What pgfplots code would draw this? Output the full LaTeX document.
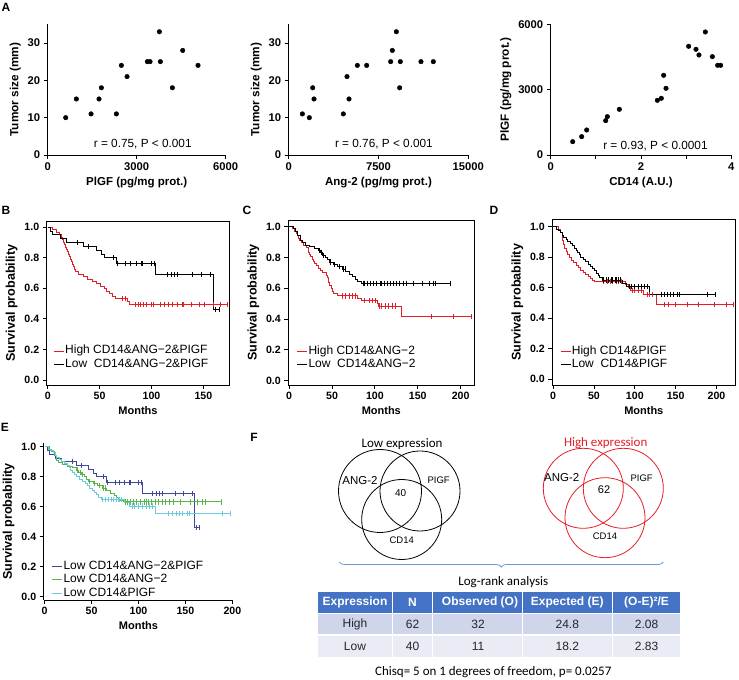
\documentclass[border=0pt]{standalone}
\usepackage{fontspec}
\setmainfont{Liberation Sans}
\newfontfamily\calibri{Carlito}
\usepackage{pgfplots}
\pgfplotsset{compat=1.18}
\usepackage{pgfplotstable}
\usetikzlibrary{decorations.pathreplacing}

\definecolor{kmred}{RGB}{228,30,38}
\definecolor{kmblue}{RGB}{64,72,158}
\definecolor{kmgreen}{RGB}{90,182,72}
\definecolor{kmcyan}{RGB}{104,204,218}
\definecolor{hdrblue}{RGB}{68,114,196}
\definecolor{rowA}{RGB}{207,213,234}
\definecolor{rowB}{RGB}{233,235,245}
\definecolor{bracec}{RGB}{110,150,210}
\newcommand{\lgf}{\fontsize{12bp}{14bp}\selectfont}

% ---------- Panel A data ----------
\pgfplotstableread{
x y
607 10
966 15
1461 11
1730 15
1809 18
2315 11
2483 24
2674 21
3360 25
3449 25
3764 33
3798 25
4202 18
4551 28
5067 24
}\Aone
\pgfplotstableread{
x y
1141 11
1725 10
2004 18
2115 15
4564 11
4870 21
5037 15
5733 24
6512 24
8516 25
8655 28
8989 33
9323 25
9267 18
11048 25
12078 25
}\Atwo
\pgfplotstableread{
x y
0.487 612
0.686 842
0.797 1148
1.218 1576
1.255 1760
1.520 2097
2.362 2510
2.450 2602
2.502 3658
2.554 3061
3.055 4990
3.218 4852
3.284 4592
3.425 5648
3.580 4515
3.698 4117
3.764 4117
}\Athree

% ---------- Panel B data ----------
\pgfplotstableread{
t s
0 1.000
5 0.984
8 0.968
11 0.952
13 0.935
14 0.919
15 0.903
16 0.887
17 0.871
18 0.855
19 0.839
20 0.823
21 0.806
22 0.790
23 0.774
24 0.758
25 0.742
26 0.726
27 0.710
30 0.694
34 0.677
38 0.661
43 0.645
47 0.629
51 0.613
55 0.597
57 0.581
59 0.565
62 0.548
65 0.532
77 0.513
79 0.492
173 0.492
}\BHs
\pgfplotstableread{
t s
72 0.532
75 0.532
84 0.492
87 0.492
89.5 0.492
92 0.492
95.5 0.492
100 0.492
102 0.492
109 0.492
112 0.492
116 0.492
120 0.492
125 0.492
130 0.492
131 0.492
138 0.492
146 0.492
151 0.492
160 0.492
166.5 0.492
173 0.492
}\BHc
\pgfplotstableread{
t s
0 1.000
3 0.975
5 0.950
12 0.925
18 0.900
34 0.875
47 0.850
52 0.825
55 0.800
66 0.762
104 0.688
160 0.459
165 0.459
}\BLs
\pgfplotstableread{
t s
29 0.900
39 0.875
63 0.800
67 0.762
75 0.762
80 0.762
85 0.762
90 0.762
91 0.762
100 0.762
103 0.762
115 0.688
119 0.688
122 0.688
125 0.688
139 0.688
148 0.688
157 0.688
162 0.459
165 0.459
}\BLc

% ---------- Panel C data ----------
\pgfplotstableread{
t s
0 1.000
4 0.985
6 0.970
8 0.955
10 0.940
11 0.925
12 0.910
14 0.895
17 0.880
20 0.865
22 0.850
23 0.835
24 0.820
25 0.805
27 0.790
28 0.775
30 0.760
32 0.745
34 0.730
37 0.715
39 0.700
43 0.685
45 0.670
46 0.640
47 0.620
49 0.600
50 0.580
52 0.565
56 0.550
80 0.535
84 0.518
103 0.500
104 0.485
131 0.416
212 0.416
}\CHs
\pgfplotstableread{
t s
62 0.550
66 0.550
70 0.550
74 0.550
77 0.550
88 0.518
94 0.518
97 0.518
100 0.518
105 0.485
108 0.485
112 0.485
116 0.485
120 0.485
124 0.485
166 0.416
191 0.416
212 0.416
}\CHc
\pgfplotstableread{
t s
0 1.000
5 0.985
7 0.970
10 0.940
13 0.910
15 0.895
19 0.880
24 0.870
30 0.860
34 0.845
36 0.830
39 0.815
42 0.800
45 0.785
47 0.770
52 0.755
56 0.740
62 0.725
66 0.710
70 0.690
74 0.675
77 0.660
80 0.645
84 0.632
188 0.632
}\CLs
\pgfplotstableread{
t s
35 0.845
38 0.830
40 0.815
48 0.770
53 0.755
58 0.740
63 0.725
65 0.725
86 0.632
88 0.632
91 0.632
95 0.632
98 0.632
102 0.632
106 0.632
108 0.632
111 0.632
114 0.632
118 0.632
121 0.632
125 0.632
129 0.632
133 0.632
137 0.632
145 0.632
155 0.632
163 0.632
168 0.632
171 0.632
188 0.632
}\CLc

% ---------- Panel D data ----------
\pgfplotstableread{
t s
0 1.000
7 0.985
9 0.960
11 0.935
12 0.910
13 0.885
14 0.860
16 0.840
18 0.820
20 0.800
22 0.780
25 0.765
28 0.745
31 0.730
34 0.715
37 0.700
40 0.685
43 0.672
46 0.660
48 0.650
51 0.640
88 0.618
92 0.598
95 0.580
111 0.555
126 0.490
220 0.490
}\DHs
\pgfplotstableread{
t s
62 0.640
66 0.640
70 0.640
73 0.640
77 0.640
80 0.640
84 0.640
97 0.580
100 0.580
104 0.580
108 0.580
115 0.555
118 0.555
122 0.555
136 0.490
141 0.490
150 0.490
164 0.490
178 0.490
197 0.490
212 0.490
220 0.490
}\DHc
\pgfplotstableread{
t s
0 1.000
4 0.985
6 0.975
9 0.960
11 0.945
13 0.930
16 0.915
18 0.905
21 0.890
24 0.875
26 0.860
28 0.845
30 0.830
32 0.815
34 0.800
37 0.785
40 0.770
43 0.755
46 0.740
48 0.725
51 0.710
53 0.695
55 0.680
57 0.665
60 0.650
85 0.630
90 0.605
118 0.556
198 0.556
}\DLs
\pgfplotstableread{
t s
62 0.650
65 0.650
68 0.650
71 0.650
73 0.650
76 0.650
78 0.650
80 0.650
82 0.650
93 0.605
96 0.605
100 0.605
104 0.605
108 0.605
112 0.605
115 0.605
132 0.556
136 0.556
140 0.556
144 0.556
147 0.556
152 0.556
154 0.556
189 0.556
198 0.556
}\DLc

\pgfplotsset{
  common/.style={scale only axis, anchor=south west, tick align=outside,
    major tick length=4bp, scaled ticks=false,
    every tick/.style={black, line width=0.8bp},
    axis line style={line width=0.8bp},
    xtick pos=left, ytick pos=left},
  scat/.style={common, axis lines*=left,
    tick label style={font=\fontsize{11.2bp}{13bp}\selectfont\bfseries},
    xlabel style={font=\fontsize{11.5bp}{13bp}\selectfont\bfseries},
    ylabel style={font=\fontsize{11.8bp}{13bp}\selectfont\bfseries}},
  km/.style={common,
    tick label style={font=\fontsize{10.6bp}{12bp}\selectfont\bfseries},
    xlabel style={font=\fontsize{11bp}{13bp}\selectfont\bfseries},
    ylabel style={font=\fontsize{12.6bp}{14bp}\selectfont\bfseries},
    ytick={0,0.2,0.4,0.6,0.8,1}, yticklabels={0.0,0.2,0.4,0.6,0.8,1.0},
    xlabel={Months}, ylabel={Survival probability},
    legend cell align=left,
    legend style={draw=none, fill=none, anchor=north west, inner sep=0pt,
      row sep=0pt,
      nodes={inner sep=0.8bp, text height=9bp, text depth=3bp}},
    legend image code/.code={\draw[##1, line width=0.9bp] (0bp,0bp) -- (10bp,0bp);}},
  stp/.style={const plot, line width=0.9bp},
  cens/.style={only marks, mark=|, mark size=2.6bp, line width=0.7bp, forget plot}
}

\begin{document}
\begin{tikzpicture}
\path[use as bounding box] (0bp,0bp) rectangle (739bp,680bp);

% ---------------- Panel A ----------------
\begin{axis}[scat, at={(47.7bp,525bp)}, width=178bp, height=130.7bp,
  xmin=0, xmax=6000, ymin=0, ymax=35,
  xtick={0,3000,6000}, xticklabels={0,3000,6000},
  ytick={0,10,20,30}, yticklabels={0,10,20,30},
  xlabel={PlGF (pg/mg prot.)}, ylabel={Tumor size (mm)}]
\addplot[only marks, mark=*, mark size=2.3bp, black] table {\Aone};
\node[font=\fontsize{11.8bp}{13bp}\selectfont] at (rel axis cs:0.534,0.085) {r = 0.75, P < 0.001};
\end{axis}

\begin{axis}[scat, at={(288.7bp,525bp)}, width=179.6bp, height=130.7bp,
  xmin=0, xmax=15000, ymin=0, ymax=35,
  xtick={0,7500,15000}, xticklabels={0,7500,15000},
  ytick={0,10,20,30}, yticklabels={0,10,20,30},
  xlabel={Ang-2 (pg/mg prot.)}, ylabel={Tumor size (mm)}]
\addplot[only marks, mark=*, mark size=2.3bp, black] table {\Atwo};
\node[font=\fontsize{11.8bp}{13bp}\selectfont] at (rel axis cs:0.53,0.085) {r = 0.76, P < 0.001};
\end{axis}

\begin{axis}[scat, at={(550.7bp,525bp)}, width=180.6bp, height=130.7bp,
  xmin=0, xmax=4, ymin=0, ymax=6000,
  xtick={0,1,2,3,4}, xticklabels={0,,2,,4},
  ytick={0,3000,6000}, yticklabels={0,3000,6000},
  xlabel={CD14 (A.U.)}, ylabel={PlGF (pg/mg prot.)}]
\addplot[only marks, mark=*, mark size=2.3bp, black] table {\Athree};
\node[font=\fontsize{11.8bp}{13bp}\selectfont] at (rel axis cs:0.58,0.07) {r = 0.93, P < 0.0001};
\end{axis}

% ---------------- Panel B ----------------
\begin{axis}[km, at={(46.7bp,295bp)}, width=182.6bp, height=164bp,
  xmin=-1, xmax=175, ymin=-0.033, ymax=1.041,
  xtick={0,50,100,150}, xticklabels={0,50,100,150},
  legend style={at={(0.036,0.25)}}]
\addplot[kmred, stp] table {\BHs};
\addlegendentry{\lgf High CD14\&ANG−2\&PIGF}
\addplot[black, stp] table {\BLs};
\addlegendentry{\lgf Low\ \ CD14\&ANG−2\&PIGF}
\addplot[kmred, cens] table {\BHc};
\addplot[black, cens] table {\BLc};
\end{axis}

% ---------------- Panel C ----------------
\begin{axis}[km, at={(288.3bp,295bp)}, width=186bp, height=165bp,
  xmin=-1, xmax=216, ymin=-0.028, ymax=1.043,
  xtick={0,50,100,150,200}, xticklabels={0,50,100,150,200},
  legend style={at={(0.045,0.248)}}]
\addplot[kmred, stp] table {\CHs};
\addlegendentry{\lgf High CD14\&ANG−2}
\addplot[black, stp] table {\CLs};
\addlegendentry{\lgf Low\ \ CD14\&ANG−2}
\addplot[kmred, cens] table {\CHc};
\addplot[black, cens] table {\CLc};
\end{axis}

% ---------------- Panel D ----------------
\begin{axis}[km, at={(552.3bp,295bp)}, width=183bp, height=165.3bp,
  xmin=-1, xmax=223, ymin=-0.039, ymax=1.046,
  xtick={0,50,100,150,200}, xticklabels={0,50,100,150,200},
  legend style={at={(0.042,0.248)}}]
\addplot[kmred, stp] table {\DHs};
\addlegendentry{\lgf High CD14\&PIGF}
\addplot[black, stp] table {\DLs};
\addlegendentry{\lgf Low\ \ CD14\&PIGF}
\addplot[kmred, cens] table {\DHc};
\addplot[black, cens] table {\DLc};
\end{axis}

% ---------------- Panel E ----------------
\begin{axis}[km, axis lines*=left, at={(43.7bp,80bp)}, width=189.6bp, height=157bp,
  xmin=-1, xmax=201, ymin=-0.022, ymax=1.025,
  xtick={0,50,100,150,200}, xticklabels={0,50,100,150,200},
  legend style={at={(0.042,0.26)}}]
\addplot[kmblue, stp] table {\BLs};
\addlegendentry{\lgf Low CD14\&ANG−2\&PIGF}
\addplot[kmgreen, stp] table {\CLs};
\addlegendentry{\lgf Low CD14\&ANG−2}
\addplot[kmcyan, stp] table {\DLs};
\addlegendentry{\lgf Low CD14\&PIGF}
\addplot[kmcyan, cens] table {\DLc};
\addplot[kmgreen, cens] table {\CLc};
\addplot[kmblue, cens] table {\BLc};
\end{axis}

% ---------------- Panel letters ----------------
\begin{scope}[every node/.style={font=\fontsize{12bp}{14bp}\selectfont\bfseries}]
\node at (6bp,673bp) {A};
\node at (6bp,470bp) {B};
\node at (247bp,470bp) {C};
\node at (494bp,470bp) {D};
\node at (5bp,252.5bp) {E};
\node at (254bp,243bp) {F};
\end{scope}

% ---------------- Panel F: Venn diagrams ----------------
\node[font=\calibri\fontsize{13bp}{15bp}\selectfont] at (402bp,236bp) {Low expression};
\draw[black, line width=0.8bp] (380bp,189bp) circle (41.5bp);
\draw[black, line width=0.8bp] (420bp,189bp) circle (40bp);
\draw[black, line width=0.8bp] (401.7bp,160.5bp) circle (40bp);
\node[font=\fontsize{11.5bp}{13bp}\selectfont] at (360bp,199.3bp) {ANG-2};
\node[font=\fontsize{9.5bp}{11bp}\selectfont] at (438.7bp,199.3bp) {PIGF};
\node[font=\fontsize{10bp}{12bp}\selectfont] at (400.7bp,187.3bp) {40};
\node[font=\fontsize{9.5bp}{11bp}\selectfont] at (401.7bp,139.3bp) {CD14};

\node[font=\calibri\fontsize{13bp}{15bp}\selectfont, text=kmred] at (605.7bp,236.7bp) {High expression};
\draw[kmred, line width=0.8bp] (583.3bp,191.7bp) circle (40bp);
\draw[kmred, line width=0.8bp] (623.3bp,191.7bp) circle (40bp);
\draw[kmred, line width=0.8bp] (605bp,162.3bp) circle (40bp);
\node[font=\fontsize{11.5bp}{13bp}\selectfont] at (561.7bp,202.7bp) {ANG-2};
\node[font=\fontsize{9.5bp}{11bp}\selectfont] at (641.7bp,201.7bp) {PIGF};
\node[font=\fontsize{11bp}{13bp}\selectfont] at (604bp,190bp) {62};
\node[font=\fontsize{9.5bp}{11bp}\selectfont] at (605bp,143.3bp) {CD14};

\draw[bracec, line width=0.8bp, decorate, decoration={brace, mirror, amplitude=5bp}]
  (339.3bp,118bp) -- (663.3bp,118bp);
\node[font=\calibri\fontsize{13bp}{15bp}\selectfont] at (503.3bp,98.3bp) {Log-rank analysis};

% ---------------- Table ----------------
\fill[hdrblue] (318bp,66.7bp) rectangle (680bp,87.7bp);
\fill[rowA] (318bp,45bp) rectangle (680bp,66.7bp);
\fill[rowB] (318bp,22.7bp) rectangle (680bp,45bp);
\foreach \xx in {392.3,432.7,522.3,612.3}{
  \draw[white, line width=1.3bp] (\xx bp,22.7bp) -- (\xx bp,87.7bp);
}
\draw[white, line width=1.3bp] (318bp,66.7bp) -- (680bp,66.7bp);
\draw[white, line width=1.3bp] (318bp,45bp) -- (680bp,45bp);
\begin{scope}[every node/.style={font=\fontsize{12bp}{14bp}\selectfont\bfseries, text=white}]
\node at (355bp,77.2bp) {Expression};
\node at (412.5bp,77.2bp) {N};
\node at (480bp,77.2bp) {Observed (O)};
\node at (567.3bp,77.2bp) {Expected (E)};
\node at (646.5bp,77.2bp) {(O-E)²/E};
\end{scope}
\begin{scope}[every node/.style={font=\fontsize{12bp}{14bp}\selectfont, text=black!85}]
\node at (355bp,55.9bp) {High};
\node at (412.5bp,55.9bp) {62};
\node at (478bp,55.9bp) {32};
\node at (567.3bp,55.9bp) {24.8};
\node at (646.5bp,55.9bp) {2.08};
\node at (355bp,33.9bp) {Low};
\node at (412.5bp,33.9bp) {40};
\node at (478bp,33.9bp) {11};
\node at (567.3bp,33.9bp) {18.2};
\node at (646.5bp,33.9bp) {2.83};
\end{scope}
\node[font=\calibri\fontsize{13bp}{15bp}\selectfont] at (493.3bp,7.5bp) {Chisq= 5 on 1 degrees of freedom, p= 0.0257};

\end{tikzpicture}
\end{document}
